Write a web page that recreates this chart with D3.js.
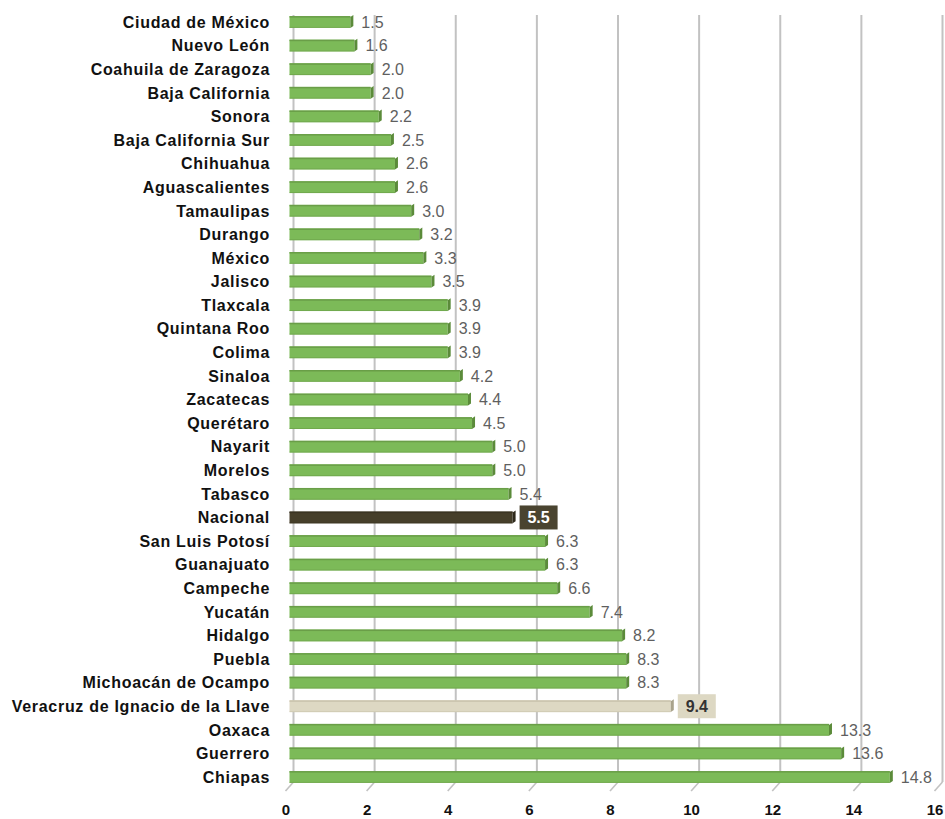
<!DOCTYPE html>
<html>
<head>
<meta charset="utf-8">
<script src="https://cdn.jsdelivr.net/npm/d3@7"></script>
<style>
  body { margin: 0; background: #fff; }
  text { font-family: "Liberation Sans", Arial, sans-serif; }
</style>
</head>
<body>
<svg id="chart" width="945" height="819"></svg>
<script>
const states = [
  'Ciudad de México', 'Nuevo León', 'Coahuila de Zaragoza', 'Baja California', 'Sonora',
  'Baja California Sur', 'Chihuahua', 'Aguascalientes', 'Tamaulipas', 'Durango',
  'México', 'Jalisco', 'Tlaxcala', 'Quintana Roo', 'Colima', 'Sinaloa', 'Zacatecas',
  'Querétaro', 'Nayarit', 'Morelos', 'Tabasco', 'Nacional', 'San Luis Potosí',
  'Guanajuato', 'Campeche', 'Yucatán', 'Hidalgo', 'Puebla', 'Michoacán de Ocampo',
  'Veracruz de Ignacio de la Llave', 'Oaxaca', 'Guerrero', 'Chiapas'
]
const values = [
  1.5, 1.6, 2.0, 2.0, 2.2, 2.5, 2.6, 2.6, 3.0, 3.2, 3.3, 3.5, 3.9, 3.9, 3.9, 4.2, 4.4,
  4.5, 5.0, 5.0, 5.4, 5.5, 6.3, 6.3, 6.6, 7.4, 8.2, 8.3, 8.3, 9.4, 13.3, 13.6, 14.8
]
const xTicks = [0, 2, 4, 6, 8, 10, 12, 14, 16]
const highlight = { 'Nacional': 'nacional', 'Veracruz de Ignacio de la Llave': 'veracruz' }

const data = states.map((name, i) => ({ name, value: values[i] }))

const svg = d3.select('#chart')

// scales
const x = d3.scaleLinear().domain([0, 16]).range([289.5, 938.5])
const y = d3.scaleBand().domain(states).range([10.2, 788.8]).paddingInner(0.5).paddingOuter(0.25)

const floorY = 782   // bottom of the back wall
const depth = { dx: 8, dy: 9 } // 3d offset back wall -> front

// vertical gridlines on the back wall plus slanted floor ticks
const grid = svg.append('g')
grid.selectAll('line.v')
  .data(xTicks)
  .join('line')
  .attr('class', 'v')
  .attr('x1', (d) => x(d) + 4).attr('x2', (d) => x(d) + 4)
  .attr('y1', 15).attr('y2', floorY)
  .attr('stroke', '#c2c2c2').attr('stroke-width', 2)
grid.selectAll('line.s')
  .data(xTicks)
  .join('line')
  .attr('class', 's')
  .attr('x1', (d) => x(d) + 4).attr('x2', (d) => x(d) + 4 - depth.dx)
  .attr('y1', floorY).attr('y2', floorY + depth.dy)
  .attr('stroke', '#c2c2c2').attr('stroke-width', 1.6)

// x axis labels
svg.append('g')
  .selectAll('text')
  .data(xTicks)
  .join('text')
  .attr('x', (d) => x(d) - 3.5)
  .attr('y', 815)
  .attr('text-anchor', 'middle')
  .attr('font-size', 15)
  .attr('font-weight', 'bold')
  .attr('fill', '#111')
  .text((d) => d)

const colors = {
  normal: { face: '#7cba58', top: '#6a9e48', cap: '#5b8b3a' },
  nacional: { face: '#463f2a', top: '#3a3422', cap: '#2f2a1c' },
  veracruz: { face: '#ddd8c3', top: '#c9c3ac', cap: '#a9a38c' }
}
const pick = (d) => colors[highlight[d.name] || 'normal']

// bars
const bars = svg.append('g')
  .selectAll('g')
  .data(data)
  .join('g')

bars.append('rect')
  .attr('x', x(0))
  .attr('y', (d) => y(d.name))
  .attr('width', (d) => x(d.value) - x(0))
  .attr('height', y.bandwidth())
  .attr('fill', (d) => pick(d).face)

bars.append('rect') // thin darker top edge
  .attr('x', x(0))
  .attr('y', (d) => y(d.name))
  .attr('width', (d) => x(d.value) - x(0))
  .attr('height', 1.5)
  .attr('fill', (d) => pick(d).top)

bars.append('rect') // faint bottom edge
  .attr('x', x(0))
  .attr('y', (d) => y(d.name) + y.bandwidth() - 1)
  .attr('width', (d) => x(d.value) - x(0))
  .attr('height', 1)
  .attr('fill', (d) => pick(d).top)
  .attr('opacity', 0.6)

bars.append('path') // right end cap
  .attr('d', (d) => {
    const x1 = x(d.value), y0 = y(d.name), h = y.bandwidth()
    return `M${x1},${y0 + 1}L${x1 + 3},${y0 - 1}L${x1 + 3},${y0 + h - 2}L${x1},${y0 + h}Z`
  })
  .attr('fill', (d) => pick(d).cap)

// category labels
svg.append('g')
  .selectAll('text')
  .data(data)
  .join('text')
  .attr('x', 270)
  .attr('y', (d) => y(d.name) + y.bandwidth() / 2)
  .attr('dy', '0.36em')
  .attr('text-anchor', 'end')
  .attr('font-size', 16)
  .attr('font-weight', 'bold')
  .attr('letter-spacing', 0.7)
  .attr('fill', '#111')
  .text((d) => d.name)

// value labels
const vals = svg.append('g')
  .selectAll('g')
  .data(data)
  .join('g')
  .attr('transform', (d) => `translate(${x(d.value) + 11},${y(d.name) + y.bandwidth() / 2})`)

vals.filter((d) => highlight[d.name])
  .append('rect')
  .attr('x', -4).attr('y', -12)
  .attr('width', 38).attr('height', 24)
  .attr('fill', (d) => highlight[d.name] === 'nacional' ? '#4a4430' : '#ddd8c3')

vals.append('text')
  .attr('x', (d) => highlight[d.name] ? 15 : 0)
  .attr('dy', '0.36em')
  .attr('text-anchor', (d) => highlight[d.name] ? 'middle' : 'start')
  .attr('font-size', 16)
  .attr('font-weight', (d) => highlight[d.name] ? 'bold' : 'normal')
  .attr('fill', (d) => highlight[d.name] === 'nacional' ? '#fff' : highlight[d.name] ? '#333' : '#5f5f5f')
  .text((d) => d3.format('.1f')(d.value))
</script>
</body>
</html>
